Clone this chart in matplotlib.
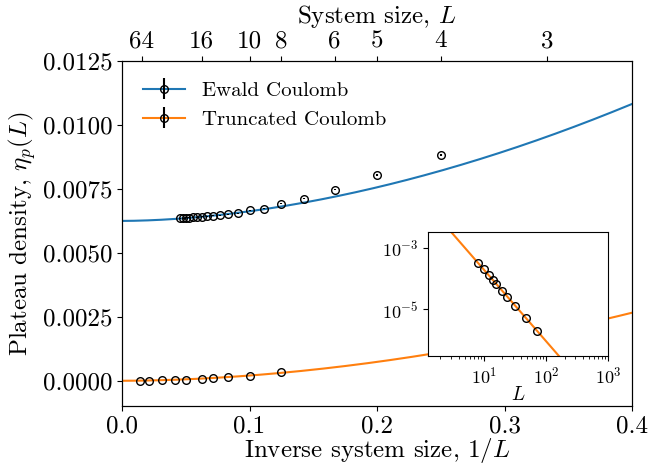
import numpy as np
import matplotlib
matplotlib.use("Agg")
import matplotlib.pyplot as plt
from matplotlib.legend_handler import HandlerTuple
from matplotlib.ticker import FormatStrFormatter, NullLocator, LogLocator

plt.rcParams['font.family'] = 'serif'
plt.rcParams['font.serif'] = ['cmr10']
plt.rcParams['mathtext.fontset'] = 'cm'
plt.rcParams['axes.unicode_minus'] = False
plt.rcParams['axes.formatter.use_mathtext'] = True

# =========================
# DATA
# =========================
# Ewald Coulomb plateau densities
L_ewald = np.array([4, 5, 6, 7, 8, 9, 10, 11, 12, 13, 14, 15, 16, 17, 18, 19, 20, 21, 22])
eta_ewald = np.array([0.00884, 0.00805, 0.00747, 0.00712, 0.00693, 0.00673, 0.00666,
                      0.00655, 0.00651, 0.00648, 0.00646, 0.00644, 0.00642, 0.00640,
                      0.00639, 0.00638, 0.00637, 0.00636, 0.00635])
err_ewald = np.array([4e-5, 3e-5, 3e-5, 2e-5, 2e-5, 2e-5, 2e-5, 2e-5, 2e-5, 2e-5,
                      2e-5, 2e-5, 2e-5, 2e-5, 2e-5, 2e-5, 2e-5, 2e-5, 2e-5])

# Truncated Coulomb plateau densities
L_trunc = np.array([8, 10, 12, 14, 16, 20, 24, 32, 48, 72])
eta_trunc = np.array([3.3e-4, 2.0e-4, 1.29e-4, 9.0e-5, 6.6e-5, 3.9e-5,
                      2.55e-5, 1.3e-5, 5.1e-6, 2.05e-6])
err_trunc = np.array([1e-6, 1e-6, 1e-6, 1e-6, 1e-6, 1e-6, 1e-6, 1e-6, 1e-7, 1e-7])

# fit parameters: eta = a + b * (1/L)^p
ewald_fit = (0.00625, 0.0238, 1.8)
trunc_fit = (0.0, 0.0145, 1.85)
# log-log fit for the inset: eta = A * L^-p
inset_fit = (0.0428, 2.33)

top_L = [64, 16, 10, 8, 6, 5, 4, 3]

# =========================
# MAIN PLOT
# =========================
fig = plt.figure(figsize=(6.49, 4.66), dpi=100)
ax = fig.add_axes([0.188, 0.128, 0.786, 0.741])

xs = np.linspace(0, 0.4, 300)
fit_e, = ax.plot(xs, ewald_fit[0] + ewald_fit[1] * xs**ewald_fit[2], color='C0', lw=1.5)
fit_t, = ax.plot(xs, trunc_fit[0] + trunc_fit[1] * xs**trunc_fit[2], color='C1', lw=1.5)

eb_e = ax.errorbar(1 / L_ewald, eta_ewald, yerr=err_ewald, fmt='o', ms=5.5,
                   mfc='none', mec='k', mew=1.0, ecolor='k', elinewidth=1.5)
eb_t = ax.errorbar(1 / L_trunc, eta_trunc, yerr=err_trunc, fmt='o', ms=5.5,
                   mfc='none', mec='k', mew=1.0, ecolor='k', elinewidth=1.5)

ax.set_xlim(0, 0.4)
ax.set_ylim(-0.001, 0.0125)
ax.set_yticks([0, 0.0025, 0.005, 0.0075, 0.01, 0.0125])
ax.yaxis.set_major_formatter(FormatStrFormatter('%.4f'))
ax.set_xticks([0, 0.1, 0.2, 0.3, 0.4])
ax.xaxis.set_major_formatter(FormatStrFormatter('%.1f'))
ax.tick_params(labelsize=18, pad=3)
ax.set_xlabel(r"Inverse system size, $1/L$", fontsize=18, labelpad=-1)
ax.set_ylabel(r"Plateau density, $\eta_p(L)$", fontsize=18, labelpad=4)

ax.legend([(fit_e, eb_e), (fit_t, eb_t)], ["Ewald Coulomb", "Truncated Coulomb"],
          handler_map={tuple: HandlerTuple(ndivide=1)}, loc='upper left',
          frameon=False, fontsize=15, handlelength=2.0, handletextpad=0.8,
          bbox_to_anchor=(0.005, 0.995))

# top axis in system size
ax_top = ax.twiny()
ax_top.set_xlim(ax.get_xlim())
ax_top.set_xticks([1 / L for L in top_L])
ax_top.set_xticklabels([str(L) for L in top_L])
ax_top.tick_params(labelsize=18, pad=3)
ax_top.set_xlabel(r"System size, $L$", fontsize=18, labelpad=5)

# =========================
# INSET
# =========================
axin = fig.add_axes([0.6595, 0.236, 0.2773, 0.266])
Ls = np.logspace(0, 3.2, 200)
axin.plot(Ls, inset_fit[0] * Ls**(-inset_fit[1]), color='C1', lw=1.5)
axin.plot(L_trunc, eta_trunc, 'o', ms=5.5, mfc='none', mec='k', mew=1.0)
axin.set_xscale('log')
axin.set_yscale('log')
axin.set_xlim(1.27, 1000)
axin.set_ylim(10**-6.52, 10**-2.48)
axin.set_yticks([1e-5, 1e-3])
axin.yaxis.set_minor_locator(NullLocator())
axin.xaxis.set_major_locator(LogLocator(base=10, numticks=10))
axin.tick_params(labelsize=13)
axin.set_xlabel(r"$L$", fontsize=14, labelpad=0)

fig.savefig("out.png", dpi=100)
